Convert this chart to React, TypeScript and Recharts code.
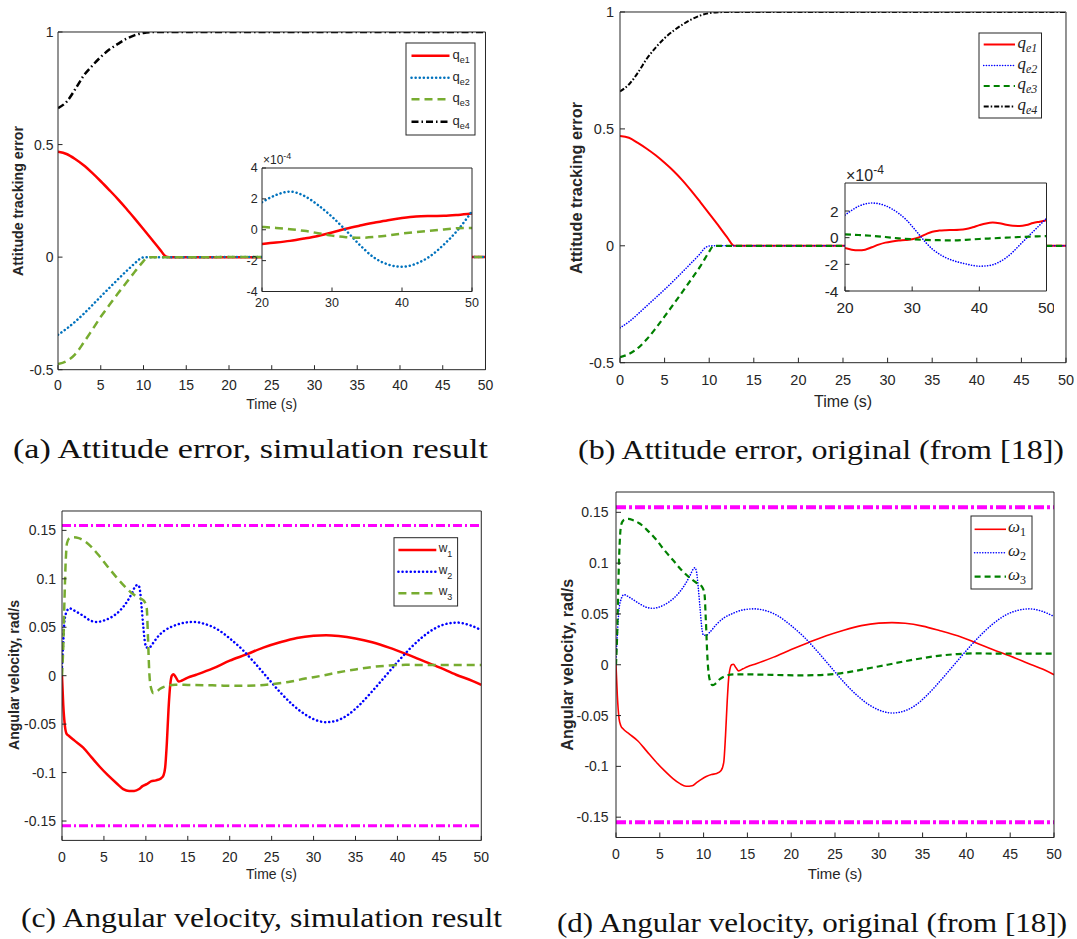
import React from "react";
import { LineChart, Line, XAxis, YAxis, ReferenceLine, ReferenceArea } from "recharts";

type Pt = [number, number];
type Box = { x: number; y: number; w: number; h: number };

const SANS = "'Liberation Sans', Arial, Helvetica, sans-serif";
const SERIF = "'Liberation Serif', 'Times New Roman', serif";
const AXIS = "#262626";

// ---------- shared ticks ----------
const timeTicks = [0, 5, 10, 15, 20, 25, 30, 35, 40, 45, 50];
const attTicks = [-0.5, 0, 0.5, 1];
const insetTimeTicks = [20, 30, 40, 50];
const insetTicksA = [-4, -2, 0, 2, 4];
const insetTicksB = [-4, -2, 0, 2];
const velTicks = [-0.15, -0.1, -0.05, 0, 0.05, 0.1, 0.15];
const velLimit = 0.155;
const insetUnit = 1e-4;

// ---------- (a) attitude error, simulation result ----------
const qe1AHead: Pt[] = [[0, 0.468], [1, 0.458], [2, 0.436], [3, 0.408], [4, 0.374], [5, 0.337], [6, 0.298], [7, 0.258], [8, 0.215], [9, 0.17], [10, 0.124], [11, 0.077], [12, 0.03], [12.6, 0.003], [13, 0], [16, 0], [18, 0]];
const qe2AHead: Pt[] = [[0, -0.345], [1, -0.318], [2, -0.287], [3, -0.252], [4, -0.214], [5, -0.175], [6, -0.137], [7, -0.099], [8, -0.062], [9, -0.027], [9.6, -0.007], [10, -0.001], [10.5, 0], [13, 0], [16, 0], [18, 0]];
const qe3AHead: Pt[] = [[0, -0.475], [1, -0.462], [2, -0.432], [3, -0.38], [4, -0.323], [5, -0.265], [6, -0.213], [7, -0.162], [8, -0.113], [9, -0.064], [10, -0.018], [10.4, -0.002], [10.8, 0], [13, 0], [16, 0], [18, 0]];
const qe4A: Pt[] = [[0, 0.662], [1, 0.69], [2, 0.745], [3, 0.806], [4, 0.85], [5, 0.889], [6, 0.922], [7, 0.947], [8, 0.97], [9, 0.986], [10, 0.996], [11, 0.9995], [12, 1], [50, 1]];

// zoomed residuals, in units of 1e-4
const insetQe1A: Pt[] = [[20, -0.92], [22, -0.83], [24, -0.72], [26, -0.57], [28, -0.4], [30, -0.18], [32, 0.07], [34, 0.27], [36, 0.45], [38, 0.62], [40, 0.76], [42, 0.86], [44, 0.89], [46, 0.9], [48, 0.96], [50, 1.05]];
const insetQe2A: Pt[] = [[20, 1.78], [22, 2.25], [24, 2.47], [26, 2.2], [28, 1.6], [30, 0.84], [32, -0.05], [34, -1.0], [36, -1.8], [38, -2.25], [40, -2.4], [42, -2.2], [44, -1.72], [46, -0.95], [48, 0.0], [50, 1.2]];
const insetQe3A: Pt[] = [[20, 0.18], [22, 0.12], [24, 0.04], [26, -0.07], [28, -0.22], [30, -0.38], [32, -0.48], [34, -0.52], [36, -0.47], [38, -0.37], [40, -0.25], [42, -0.15], [44, -0.06], [46, 0.02], [48, 0.1], [50, 0.12]];

// ---------- (b) attitude error, original ----------
const qe1BHead: Pt[] = [[0, 0.47], [1, 0.462], [2, 0.44], [3, 0.415], [4, 0.387], [5, 0.355], [6, 0.32], [7, 0.28], [8, 0.235], [9, 0.187], [10, 0.138], [11, 0.088], [12, 0.037], [12.8, 0], [13, 0], [16, 0], [18, 0]];
const qe2BHead: Pt[] = [[0, -0.351], [1, -0.325], [2, -0.292], [3, -0.257], [4, -0.222], [5, -0.187], [6, -0.15], [7, -0.112], [8, -0.073], [9, -0.033], [9.5, -0.01], [10, -0.001], [10.5, 0], [13, 0], [16, 0], [18, 0]];
const qe3BHead: Pt[] = [[0, -0.476], [1, -0.463], [2, -0.438], [3, -0.4], [4, -0.353], [5, -0.302], [6, -0.25], [7, -0.197], [8, -0.143], [9, -0.088], [10, -0.025], [10.4, -0.003], [10.8, 0], [13, 0], [16, 0], [18, 0]];
const qe4B: Pt[] = [[0, 0.66], [1, 0.69], [2, 0.74], [3, 0.8], [4, 0.848], [5, 0.888], [6, 0.92], [7, 0.946], [8, 0.968], [9, 0.985], [10, 0.995], [11, 0.999], [12, 1], [50, 1]];

const insetQe1B: Pt[] = [[20, -0.78], [21, -0.9], [22, -0.95], [23, -0.9], [24, -0.72], [25, -0.52], [26, -0.37], [27, -0.28], [28, -0.22], [29, -0.18], [30, -0.12], [31, 0.02], [32, 0.25], [33, 0.45], [34, 0.53], [35, 0.56], [36, 0.57], [37, 0.59], [38, 0.65], [39, 0.78], [40, 0.94], [41, 1.07], [42, 1.13], [43, 1.08], [44, 0.97], [45, 0.89], [46, 0.88], [47, 0.95], [48, 1.1], [49, 1.2], [50, 1.3]];
const insetQe2B: Pt[] = [[20, 1.69], [21, 2.05], [22, 2.35], [23, 2.53], [24, 2.6], [25, 2.55], [26, 2.4], [27, 2.15], [28, 1.82], [29, 1.4], [30, 0.85], [31, 0.25], [32, -0.35], [33, -0.85], [34, -1.22], [35, -1.5], [36, -1.7], [37, -1.85], [38, -1.97], [39, -2.08], [40, -2.14], [41, -2.12], [42, -2.03], [43, -1.82], [44, -1.5], [45, -1.07], [46, -0.55], [47, -0.05], [48, 0.45], [49, 0.95], [50, 1.44]];
const insetQe3B: Pt[] = [[20, 0.25], [22, 0.2], [24, 0.14], [26, 0.05], [28, -0.05], [30, -0.12], [32, -0.17], [34, -0.19], [36, -0.2], [38, -0.16], [40, -0.1], [42, -0.05], [44, 0], [46, 0.05], [48, 0.09], [50, 0.12]];

// ---------- (c) angular velocity, simulation result ----------
const w1C: Pt[] = [[0, 0], [0.15, -0.03], [0.35, -0.052], [0.55, -0.06], [0.8, -0.062], [1.5, -0.067], [2.5, -0.074], [3.5, -0.084], [4.5, -0.094], [5.5, -0.103], [6.5, -0.111], [7.3, -0.117], [8, -0.119], [8.6, -0.119], [9.2, -0.117], [9.6, -0.114], [10.1, -0.112], [10.6, -0.109], [11.2, -0.108], [11.8, -0.106], [12.1, -0.103], [12.3, -0.095], [12.5, -0.07], [12.7, -0.035], [12.9, -0.01], [13.1, 0], [13.3, 0.0015], [13.6, -0.002], [13.9, -0.006], [14.3, -0.005], [15, -0.002], [16, 0.001], [18, 0.0075], [20, 0.0155], [22, 0.022], [24, 0.029], [26, 0.0345], [28, 0.039], [30, 0.0413], [31.5, 0.0418], [33, 0.041], [35, 0.0385], [37, 0.0345], [39, 0.029], [41, 0.0225], [43, 0.0155], [45, 0.0085], [47, 0.001], [49, -0.0055], [50, -0.0095]];
const w2C: Pt[] = [[0, 0.009], [0.15, 0.035], [0.3, 0.057], [0.6, 0.067], [0.9, 0.0695], [1.5, 0.067], [2.5, 0.062], [3.5, 0.0565], [4.2, 0.0555], [5, 0.057], [6, 0.061], [7, 0.068], [7.8, 0.077], [8.4, 0.086], [8.8, 0.093], [9.1, 0.0935], [9.3, 0.088], [9.5, 0.07], [9.7, 0.05], [9.9, 0.034], [10.1, 0.029], [10.4, 0.029], [10.8, 0.033], [11.5, 0.041], [12.3, 0.047], [13.2, 0.051], [14.5, 0.0545], [15.7, 0.0555], [17, 0.0535], [18.5, 0.048], [20, 0.0385], [21.5, 0.027], [23, 0.013], [24.5, -0.002], [26, -0.017], [27.5, -0.03], [29, -0.04], [30.5, -0.0465], [31.5, -0.048], [32.5, -0.047], [34, -0.041], [35.5, -0.03], [37, -0.016], [38.5, -0.001], [40, 0.014], [41.5, 0.028], [43, 0.04], [44.5, 0.049], [46, 0.0538], [47.2, 0.0548], [48.5, 0.0525], [50, 0.047]];
const w3C: Pt[] = [[0, 0], [0.15, 0.03], [0.3, 0.08], [0.45, 0.12], [0.6, 0.137], [0.9, 0.142], [1.4, 0.143], [2, 0.142], [2.7, 0.139], [3.5, 0.133], [4.5, 0.123], [5.5, 0.112], [6.5, 0.1015], [7.5, 0.092], [8.5, 0.084], [9.3, 0.08], [9.8, 0.077], [10.1, 0.07], [10.25, 0.04], [10.4, 0.005], [10.6, -0.012], [10.9, -0.018], [11.2, -0.017], [11.7, -0.0135], [12.5, -0.0105], [13.5, -0.0093], [15, -0.0095], [17, -0.0098], [19, -0.0102], [21, -0.0105], [23, -0.0102], [25, -0.0088], [27, -0.0065], [29, -0.003], [31, 0], [33, 0.0035], [35, 0.0065], [37, 0.009], [39, 0.0105], [41, 0.0112], [43, 0.011], [45, 0.011], [47, 0.011], [50, 0.011]];

// ---------- (d) angular velocity, original ----------
const w1D: Pt[] = [[0, 0], [0.15, -0.03], [0.35, -0.053], [0.55, -0.06], [0.8, -0.063], [1.5, -0.068], [2.5, -0.075], [3.5, -0.085], [4.5, -0.095], [5.5, -0.104], [6.5, -0.112], [7.3, -0.117], [8, -0.1195], [8.7, -0.119], [9.2, -0.116], [9.7, -0.113], [10.3, -0.11], [10.9, -0.108], [11.5, -0.107], [12, -0.104], [12.3, -0.096], [12.5, -0.07], [12.7, -0.035], [12.9, -0.01], [13.2, 0], [13.4, 0.0005], [13.7, -0.003], [14, -0.006], [14.5, -0.004], [15, -0.002], [16, 0.001], [18, 0.0075], [20, 0.015], [22, 0.022], [24, 0.0285], [26, 0.034], [28, 0.0385], [30, 0.041], [31.5, 0.0415], [33, 0.0408], [35, 0.038], [37, 0.0335], [39, 0.0285], [41, 0.022], [43, 0.015], [45, 0.0085], [47, 0.0015], [49, -0.0055], [50, -0.0098]];
const w2D: Pt[] = [[0, 0.005], [0.15, 0.03], [0.35, 0.055], [0.6, 0.065], [0.9, 0.069], [1.5, 0.0665], [2.5, 0.061], [3.5, 0.0565], [4.2, 0.0555], [5, 0.057], [6, 0.0615], [7, 0.069], [7.8, 0.078], [8.4, 0.087], [8.8, 0.094], [9, 0.0955], [9.2, 0.091], [9.4, 0.075], [9.6, 0.055], [9.8, 0.036], [10, 0.029], [10.3, 0.029], [10.7, 0.032], [11.5, 0.04], [12.3, 0.046], [13.2, 0.05], [14.5, 0.054], [15.7, 0.055], [17, 0.0535], [18.5, 0.048], [20, 0.0385], [21.5, 0.027], [23, 0.013], [24.5, -0.002], [26, -0.017], [27.5, -0.03], [29, -0.04], [30.5, -0.046], [31.5, -0.0475], [32.5, -0.0465], [34, -0.041], [35.5, -0.03], [37, -0.016], [38.5, -0.001], [40, 0.014], [41.5, 0.028], [43, 0.04], [44.5, 0.049], [46, 0.0538], [47.2, 0.055], [48.5, 0.053], [50, 0.0475]];
const w3D: Pt[] = [[0, 0], [0.15, 0.035], [0.3, 0.09], [0.45, 0.125], [0.6, 0.138], [0.9, 0.1425], [1.4, 0.1435], [2, 0.142], [2.7, 0.139], [3.5, 0.133], [4.5, 0.124], [5.5, 0.113], [6.5, 0.103], [7.5, 0.093], [8.5, 0.085], [9.3, 0.08], [9.8, 0.077], [10.1, 0.07], [10.25, 0.045], [10.45, 0.005], [10.7, -0.015], [11, -0.02], [11.3, -0.019], [11.8, -0.0145], [12.5, -0.011], [13.5, -0.0095], [15, -0.0095], [17, -0.0098], [19, -0.0102], [21, -0.0104], [23, -0.0102], [25, -0.009], [27, -0.0066], [29, -0.0032], [31, 0], [33, 0.0035], [35, 0.0065], [37, 0.009], [39, 0.0105], [41, 0.0112], [43, 0.011], [45, 0.011], [47, 0.011], [50, 0.011]];

// residual tail (after convergence) carried into the full-scale plots
const withTail = (head: Pt[], tail: Pt[]): Pt[] => [...head, ...tail.map(([t, v]) => [t, v * insetUnit] as Pt)];

const rows = (pts: Pt[]) => pts.map(([t, v]) => ({ t, v }));

type Series = { pts: Pt[]; color: string; width: number; dash?: string; round?: boolean };
type RefY = { y: number; color: string; width: number; dash: string };

const YW = 70;
const XH = 40;
const MT = 8;
const MR = 8;

function Panel(props: {
  box: Box;
  xDomain: [number, number];
  yDomain: [number, number];
  xTicks: number[];
  yTicks: number[];
  font: number;
  tickLen: number;
  gapX: number;
  gapY: number;
  series: Series[];
  refs?: RefY[];
  backdrop?: boolean;
}) {
  const { box, xDomain, yDomain, xTicks, yTicks, font, tickLen, gapX, gapY, series, refs, backdrop } = props;
  const W = YW + box.w + MR;
  const H = MT + box.h + XH;
  const tick = { fontSize: font, fill: AXIS, fontFamily: SANS };
  return (
    <div style={{ position: "absolute", left: box.x - YW, top: box.y - MT, width: W, height: H }}>
      <LineChart width={W} height={H} margin={{ top: MT - 1, right: MR - 1, bottom: 0, left: 0 }}>
        {backdrop && (
          <ReferenceArea xAxisId="b" yAxisId="l" x1={xDomain[0]} x2={xDomain[1]} y1={yDomain[0]} y2={yDomain[1]} fill="#ffffff" fillOpacity={1} stroke="none" />
        )}
        <XAxis xAxisId="b" dataKey="t" type="number" domain={xDomain} ticks={xTicks} interval={0} allowDataOverflow height={XH} tickSize={-tickLen} tickMargin={tickLen + gapX} tick={tick} stroke={AXIS} />
        <XAxis xAxisId="t" orientation="top" dataKey="t" type="number" domain={xDomain} ticks={xTicks} interval={0} allowDataOverflow height={1} tickSize={-tickLen} tick={false} stroke={AXIS} />
        <YAxis yAxisId="l" type="number" domain={yDomain} ticks={yTicks} interval={0} allowDataOverflow width={YW} tickSize={-tickLen} tickMargin={tickLen + gapY} tick={tick} stroke={AXIS} />
        <YAxis yAxisId="r" orientation="right" type="number" domain={yDomain} ticks={yTicks} interval={0} allowDataOverflow width={1} tickSize={-tickLen} tick={false} stroke={AXIS} />
        {(refs ?? []).map((r, i) => (
          <ReferenceLine key={`r${i}`} xAxisId="b" yAxisId="l" y={r.y} stroke={r.color} strokeWidth={r.width} strokeDasharray={r.dash} />
        ))}
        {series.map((s, i) => (
          <Line
            key={`s${i}`}
            xAxisId="b"
            yAxisId="l"
            data={rows(s.pts)}
            dataKey="v"
            type="monotone"
            stroke={s.color}
            strokeWidth={s.width}
            strokeDasharray={s.dash}
            strokeLinecap={s.round ? "round" : "butt"}
            dot={false}
            activeDot={false}
            isAnimationActive={false}
          />
        ))}
      </LineChart>
    </div>
  );
}

const RED = "#ff0000";
const MBLUE = "#0072bd";
const MGREEN = "#77ac30";
const BLUE = "#0000ff";
const DGREEN = "#008000";
const BLACK = "#000000";
const MAGENTA = "#ff00ff";

const styleA = {
  q1: { color: RED, width: 2.5 },
  q2: { color: MBLUE, width: 2.5, dash: "0.1 4", round: true },
  q3: { color: MGREEN, width: 2.5, dash: "8 5" },
  q4: { color: BLACK, width: 2.5, dash: "7 3 1.5 3" },
};
const styleB = {
  q1: { color: RED, width: 2 },
  q2: { color: BLUE, width: 1.6, dash: "0.1 2.6", round: true },
  q3: { color: DGREEN, width: 2.2, dash: "6 4" },
  q4: { color: BLACK, width: 2, dash: "5 2 1.5 2" },
};
const styleC = {
  w1: { color: RED, width: 2.5 },
  w2: { color: BLUE, width: 2.5, dash: "0.1 4", round: true },
  w3: { color: MGREEN, width: 2.5, dash: "8 5" },
};
const styleD = {
  w1: { color: RED, width: 1.6 },
  w2: { color: BLUE, width: 1.6, dash: "0.1 2.6", round: true },
  w3: { color: DGREEN, width: 2.2, dash: "6 4" },
};

const legendNamesA = ["e1", "e2", "e3", "e4"];
const legendNamesC = ["1", "2", "3"];

function LegendSwatch({ x1, x2, y, s }: { x1: number; x2: number; y: number; s: { color: string; width: number; dash?: string; round?: boolean } }) {
  return <line x1={x1} x2={x2} y1={y} y2={y} stroke={s.color} strokeWidth={s.width} strokeDasharray={s.dash} strokeLinecap={s.round ? "round" : "butt"} />;
}

function Overlay() {
  const sA = [styleA.q1, styleA.q2, styleA.q3, styleA.q4];
  const sB = [styleB.q1, styleB.q2, styleB.q3, styleB.q4];
  const sC = [styleC.w1, styleC.w2, styleC.w3];
  const sD = [styleD.w1, styleD.w2, styleD.w3];
  const rowsA = [55.7, 77.7, 99.3, 121.7];
  const rowsB = [44.5, 65.5, 86, 106.5];
  const rowsC = [550, 571.7, 593.3];
  const rowsD = [529.3, 552.7, 576.7];
  return (
    <svg width={1077} height={939} style={{ position: "absolute", left: 0, top: 0, pointerEvents: "none" }}>
      {/* axis titles */}
      <g fontFamily={SANS} fill={AXIS}>
        <text x={271.7} y={404} textAnchor="middle" dominantBaseline="central" fontSize={14}>Time (s)</text>
        <text x={843} y={401} textAnchor="middle" dominantBaseline="central" fontSize={16}>Time (s)</text>
        <text x={271.4} y={874} textAnchor="middle" dominantBaseline="central" fontSize={14}>Time (s)</text>
        <text x={835} y={873} textAnchor="middle" dominantBaseline="central" fontSize={15}>Time (s)</text>
        <text transform="translate(18,201) rotate(-90)" textAnchor="middle" dominantBaseline="central" fontSize={14} fontWeight="bold" textLength={150} lengthAdjust="spacingAndGlyphs">Attitude tracking error</text>
        <text transform="translate(576.5,188) rotate(-90)" textAnchor="middle" dominantBaseline="central" fontSize={16} fontWeight="bold" textLength={172} lengthAdjust="spacingAndGlyphs">Attitude tracking error</text>
        <text transform="translate(14,675) rotate(-90)" textAnchor="middle" dominantBaseline="central" fontSize={14} fontWeight="bold" textLength={150} lengthAdjust="spacingAndGlyphs">Angular velocity, rad/s</text>
        <text transform="translate(567,664.7) rotate(-90)" textAnchor="middle" dominantBaseline="central" fontSize={16} fontWeight="bold" textLength={172} lengthAdjust="spacingAndGlyphs">Angular velocity, rad/s</text>
        {/* inset exponent labels */}
        <text x={263} y={164} fontSize={12}>×10<tspan dy={-5} fontSize={9}>-4</tspan></text>
        <text x={846} y={181} fontSize={16}>×10<tspan dy={-7} fontSize={12}>-4</tspan></text>
      </g>

      {/* legend (a) */}
      <rect x={406} y={43} width={69} height={92} fill="#fff" stroke={AXIS} strokeWidth={1} />
      {legendNamesA.map((n, i) => (
        <g key={`la${i}`}>
          <LegendSwatch x1={411.5} x2={449.5} y={rowsA[i]} s={sA[i]} />
          <text x={452.5} y={rowsA[i] + 3} fontFamily={SANS} fontSize={13} fill={AXIS}>q<tspan dy={4} fontSize={9}>{n}</tspan></text>
        </g>
      ))}

      {/* legend (b) */}
      <rect x={979} y={33} width={62.5} height={85} fill="#fff" stroke={AXIS} strokeWidth={1} />
      {legendNamesA.map((n, i) => (
        <g key={`lb${i}`}>
          <LegendSwatch x1={983.7} x2={1015} y={rowsB[i]} s={sB[i]} />
          <text x={1017.5} y={rowsB[i] + 3} fontFamily={SERIF} fontSize={17} fill="#222" fontStyle="italic">q<tspan dy={4} fontSize={12}>{n}</tspan></text>
        </g>
      ))}

      {/* legend (c) */}
      <rect x={394} y={537.7} width={63.6} height={68.3} fill="#fff" stroke={AXIS} strokeWidth={1} />
      {legendNamesC.map((n, i) => (
        <g key={`lc${i}`}>
          <LegendSwatch x1={398.4} x2={436.3} y={rowsC[i]} s={sC[i]} />
          <text x={438.7} y={rowsC[i] + 2} fontFamily={SANS} fontSize={12} fill={AXIS}>w<tspan dy={5} fontSize={9}>{n}</tspan></text>
        </g>
      ))}

      {/* legend (d) */}
      <rect x={971} y={516} width={61} height={73} fill="#fff" stroke={AXIS} strokeWidth={1} />
      {legendNamesC.map((n, i) => (
        <g key={`ld${i}`}>
          <LegendSwatch x1={974.6} x2={1006} y={rowsD[i]} s={sD[i]} />
          <text x={1008} y={rowsD[i] + 3} fontFamily={SERIF} fontSize={17} fill="#222" fontStyle="italic">ω<tspan dy={4} fontSize={12} fontStyle="normal">{n}</tspan></text>
        </g>
      ))}

      {/* captions */}
      <g fontFamily={SERIF} fontSize={28} fill="#111">
        <text x={13} y={458} textLength={475} lengthAdjust="spacingAndGlyphs">(a) Attitude error, simulation result</text>
        <text x={578} y={459} textLength={486} lengthAdjust="spacingAndGlyphs">(b) Attitude error, original (from [18])</text>
        <text x={21} y={927} textLength={481} lengthAdjust="spacingAndGlyphs">(c) Angular velocity, simulation result</text>
        <text x={557} y={932} textLength={510} lengthAdjust="spacingAndGlyphs">(d) Angular velocity, original (from [18])</text>
      </g>
    </svg>
  );
}

export default function App() {
  const boxA: Box = { x: 58, y: 32.3, w: 427.5, h: 337.7 };
  const boxAi: Box = { x: 262, y: 167.5, w: 210, h: 123.5 };
  const boxB: Box = { x: 620, y: 12.3, w: 446, h: 350.7 };
  const boxBi: Box = { x: 844.5, y: 183, w: 201.5, h: 108 };
  const boxC: Box = { x: 61.7, y: 510.6, w: 419.3, h: 329.4 };
  const boxD: Box = { x: 616, y: 492, w: 438, h: 345.5 };

  return (
    <div style={{ position: "absolute", left: 0, top: 0, width: 1077, height: 939, background: "#fff", overflow: "hidden" }}>
      <Panel
        box={boxA} xDomain={[0, 50]} yDomain={[-0.5, 1]} xTicks={timeTicks} yTicks={attTicks}
        font={14} tickLen={4.5} gapX={10.3} gapY={4.5}
        series={[
          { pts: withTail(qe1AHead, insetQe1A), ...styleA.q1 },
          { pts: withTail(qe2AHead, insetQe2A), ...styleA.q2 },
          { pts: withTail(qe3AHead, insetQe3A), ...styleA.q3 },
          { pts: qe4A, ...styleA.q4 },
        ]}
      />
      <Panel
        box={boxAi} xDomain={[20, 50]} yDomain={[-4, 4]} xTicks={insetTimeTicks} yTicks={insetTicksA}
        font={12.5} tickLen={4} gapX={6.8} gapY={4.3} backdrop
        series={[
          { pts: insetQe1A, ...styleA.q1 },
          { pts: insetQe2A, ...styleA.q2 },
          { pts: insetQe3A, ...styleA.q3 },
        ]}
      />
      <Panel
        box={boxB} xDomain={[0, 50]} yDomain={[-0.5, 1]} xTicks={timeTicks} yTicks={attTicks}
        font={14.5} tickLen={5} gapX={12} gapY={6}
        series={[
          { pts: withTail(qe1BHead, insetQe1B), ...styleB.q1 },
          { pts: withTail(qe2BHead, insetQe2B), ...styleB.q2 },
          { pts: withTail(qe3BHead, insetQe3B), ...styleB.q3 },
          { pts: qe4B, ...styleB.q4 },
        ]}
      />
      <Panel
        box={boxBi} xDomain={[20, 50]} yDomain={[-4, 4.1]} xTicks={insetTimeTicks} yTicks={insetTicksB}
        font={15.5} tickLen={4.5} gapX={10.5} gapY={6.5} backdrop
        series={[
          { pts: insetQe1B, ...styleB.q1 },
          { pts: insetQe2B, ...styleB.q2 },
          { pts: insetQe3B, ...styleB.q3 },
        ]}
      />
      <Panel
        box={boxC} xDomain={[0, 50]} yDomain={[-0.17, 0.17]} xTicks={timeTicks} yTicks={velTicks}
        font={14} tickLen={4.5} gapX={11.3} gapY={6}
        refs={[
          { y: velLimit, color: MAGENTA, width: 3, dash: "9 3 2 3" },
          { y: -velLimit, color: MAGENTA, width: 3, dash: "9 3 2 3" },
        ]}
        series={[
          { pts: w1C, ...styleC.w1 },
          { pts: w2C, ...styleC.w2 },
          { pts: w3C, ...styleC.w3 },
        ]}
      />
      <Panel
        box={boxD} xDomain={[0, 50]} yDomain={[-0.17, 0.17]} xTicks={timeTicks} yTicks={velTicks}
        font={14} tickLen={5} gapX={11.8} gapY={7.5}
        refs={[
          { y: velLimit, color: MAGENTA, width: 4, dash: "10 3 3 3" },
          { y: -velLimit, color: MAGENTA, width: 4, dash: "10 3 3 3" },
        ]}
        series={[
          { pts: w1D, ...styleD.w1 },
          { pts: w2D, ...styleD.w2 },
          { pts: w3D, ...styleD.w3 },
        ]}
      />
      <Overlay />
    </div>
  );
}
